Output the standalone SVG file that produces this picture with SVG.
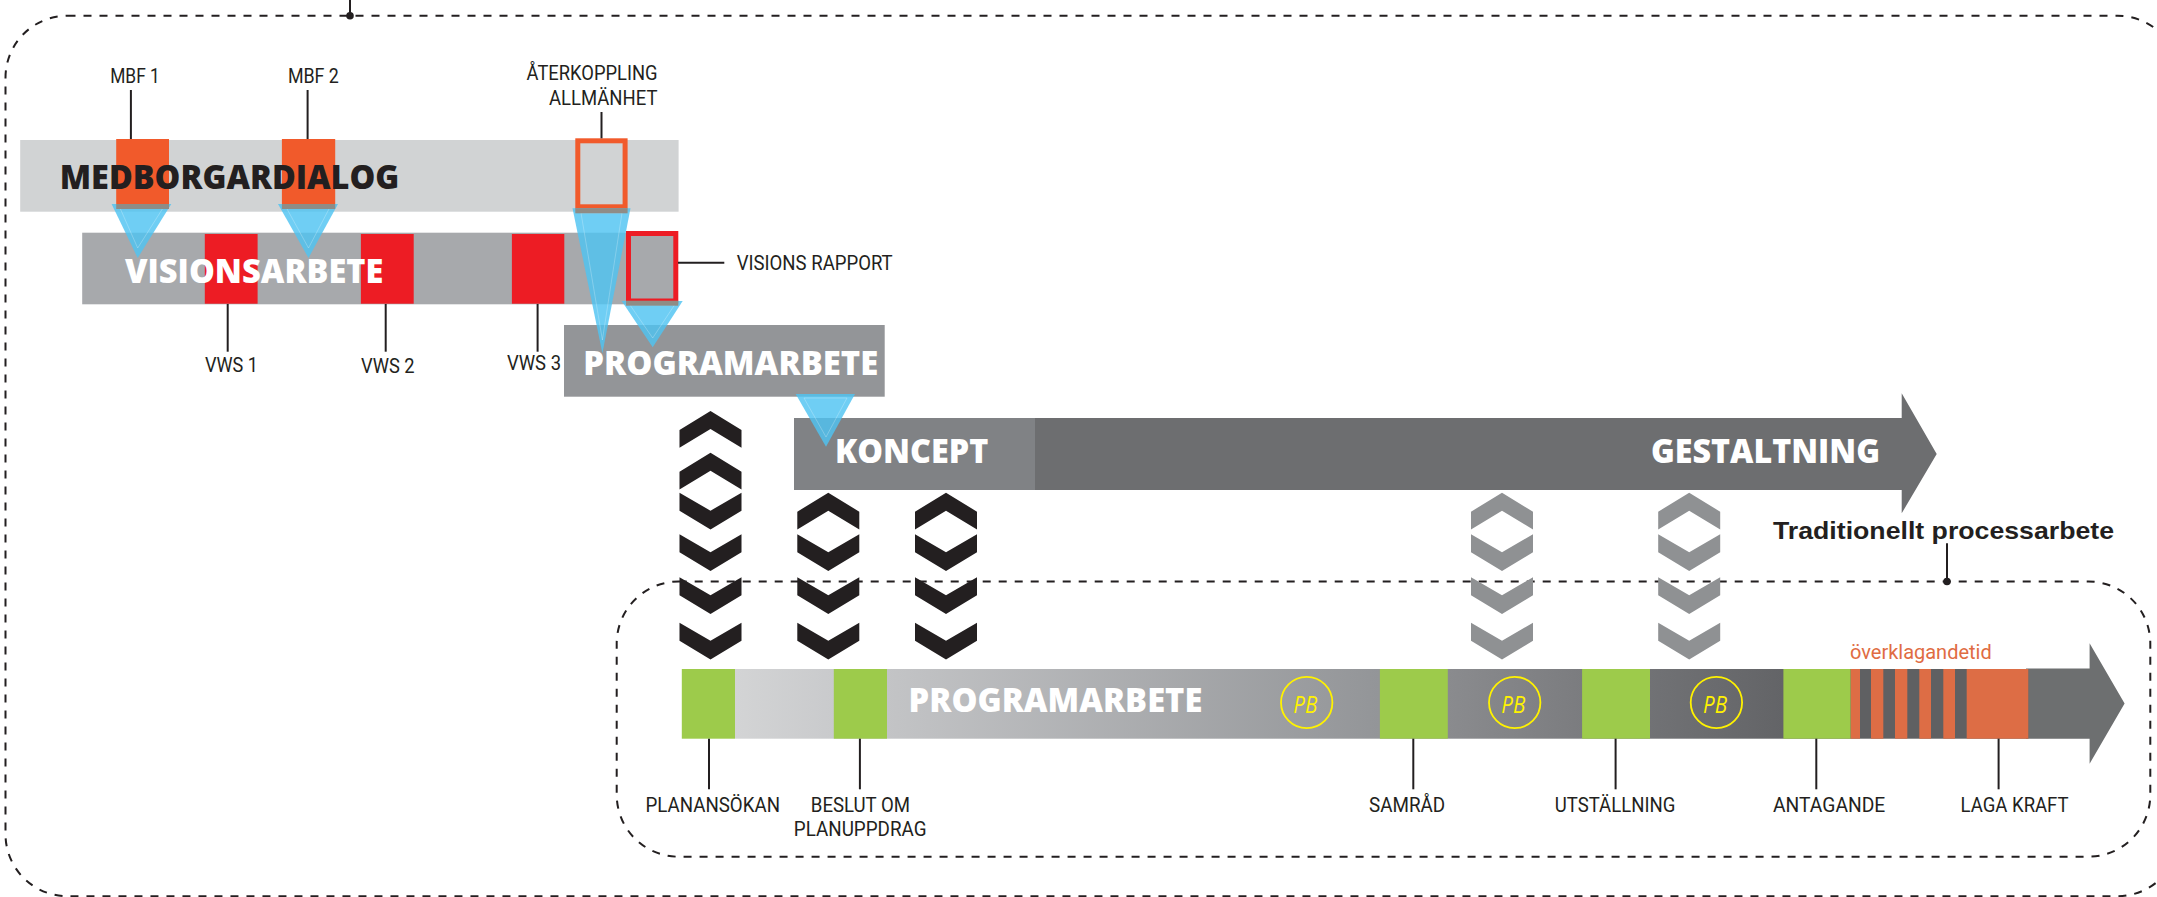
<svg xmlns="http://www.w3.org/2000/svg" width="2157" height="897" viewBox="0 0 2157 897">
<style>
.dash{fill:none;stroke:#231f20;stroke-width:2;stroke-dasharray:8 8}
.lead{stroke:#231f20;stroke-width:2;fill:none}
.lbl{font-family:Roboto,"Liberation Sans",sans-serif;font-size:19.5px;fill:#231f20}
.hd{font-family:"Open Sans","Liberation Sans",sans-serif;font-weight:800;font-size:34px}
.w{fill:#ffffff}
.blk{fill:#231f20}
.tri{fill:#4fc3f2;opacity:0.82}
.triin{fill:none;stroke:#ffffff;stroke-opacity:0.3;stroke-width:0.8}
.strip{fill:#8f8c86}
.green{fill:#9dcb4b}
.pbc{fill:none;stroke:#fff200;stroke-width:1.8}
.pbt{font-family:"Open Sans","Liberation Sans",sans-serif;font-style:italic;font-size:24px;fill:#fff200}
.chk{fill:#231f20}
.chg{fill:#8f9193}
</style>
<defs>
<path id="chevU" d="M0,0 L31,19 L31,36.7 L0,18 L-31,36.7 L-31,19 Z"/>
<path id="chevD" d="M-31,0 L0,18 L31,0 L31,18 L0,36.7 L-31,18 Z"/>
<linearGradient id="barg" gradientUnits="userSpaceOnUse" x1="735" y1="0" x2="1850" y2="0">
<stop offset="0" stop-color="#d3d4d5"/>
<stop offset="0.09" stop-color="#c9cacc"/>
<stop offset="0.136" stop-color="#c3c4c6"/>
<stop offset="0.578" stop-color="#939598"/>
<stop offset="0.64" stop-color="#8a8b8e"/>
<stop offset="0.76" stop-color="#7b7c7f"/>
<stop offset="0.82" stop-color="#717275"/>
<stop offset="0.94" stop-color="#636467"/>
<stop offset="1" stop-color="#5f6062"/>
</linearGradient>
</defs>

<g id="outer-frame">
<rect class="dash" x="5.5" y="15.7" width="2174" height="880.5" rx="62"/>
<line class="lead" x1="350" y1="0" x2="350" y2="15.7"/>
<circle cx="350" cy="15.7" r="3.8" class="blk"/>
</g>

<g id="medborgardialog">
<rect x="20.2" y="140" width="658.4" height="71.7" fill="#d1d3d4"/>
<rect x="116.2" y="139" width="52.8" height="65" fill="#f15a2b"/>
<rect x="281.9" y="139" width="53.3" height="65" fill="#f15a2b"/>
<rect x="577.8" y="140.8" width="47.3" height="66" fill="#d1d3d4" stroke="#f15a2b" stroke-width="5"/>
<text class="hd blk" x="59.7" y="189.3" textLength="339.7" lengthAdjust="spacingAndGlyphs">MEDBORGARDIALOG</text>
</g>

<g id="mbf1"><text class="lbl" x="110.2" y="83" textLength="49.6" lengthAdjust="spacingAndGlyphs">MBF 1</text></g>
<g id="mbf2"><text class="lbl" x="287.9" y="83" textLength="51" lengthAdjust="spacingAndGlyphs">MBF 2</text></g>
<g id="aterkoppling">
<text class="lbl" x="526.6" y="80" textLength="130.9" lengthAdjust="spacingAndGlyphs">ÅTERKOPPLING</text>
<text class="lbl" x="549" y="105" textLength="108.5" lengthAdjust="spacingAndGlyphs">ALLMÄNHET</text>
</g>

<g id="visionsarbete">
<rect x="82.2" y="232.7" width="594" height="71.6" fill="#a7a9ac"/>
<rect x="204.8" y="234" width="52.8" height="69.7" fill="#ed1c24"/>
<rect x="360.9" y="234" width="52.8" height="69.7" fill="#ed1c24"/>
<rect x="511.9" y="234" width="52.4" height="69.7" fill="#ed1c24"/>
<rect x="628.5" y="233.5" width="47.3" height="67.5" fill="#a7a9ac" stroke="#ed1c24" stroke-width="5"/>
<text class="hd w" x="124.9" y="282.7" font-size="35" textLength="258.5" lengthAdjust="spacingAndGlyphs">VISIONSARBETE</text>
</g>

<g id="vws1"><text class="lbl" x="205" y="371.7" textLength="53" lengthAdjust="spacingAndGlyphs">VWS 1</text></g>
<g id="vws2"><text class="lbl" x="361" y="372.7" textLength="53.6" lengthAdjust="spacingAndGlyphs">VWS 2</text></g>
<g id="vws3"><text class="lbl" x="507" y="370" textLength="54" lengthAdjust="spacingAndGlyphs">VWS 3</text></g>
<g id="visions-rapport"><text class="lbl" x="736.7" y="270" textLength="156" lengthAdjust="spacingAndGlyphs">VISIONS RAPPORT</text></g>

<g id="programarbete-upper">
<rect x="564" y="325" width="320.7" height="71.7" fill="#939598"/>
<text class="hd w" x="583.3" y="375" textLength="295" lengthAdjust="spacingAndGlyphs">PROGRAMARBETE</text>
</g>

<g id="koncept-gestaltning">
<path d="M1035,418 L1901.7,418 L1901.7,393.3 L1936.7,454 L1901.7,513.3 L1901.7,490 L1035,490 Z" fill="#6d6e70"/>
<rect x="794" y="418" width="241" height="72" fill="#808285"/>
<text class="hd w" x="835" y="463.3" textLength="153.3" lengthAdjust="spacingAndGlyphs">KONCEPT</text>
<text class="hd w" x="1651" y="462.7" textLength="229" lengthAdjust="spacingAndGlyphs">GESTALTNING</text>
</g>

<g id="traditionellt-frame">
<rect class="dash" x="616.7" y="581.5" width="1533.6" height="275.2" rx="62"/>
<line class="lead" x1="1947" y1="543.3" x2="1947" y2="581.5"/>
<circle cx="1947" cy="581.5" r="3.8" class="blk"/>
<text x="1773" y="539.3" font-family="'Liberation Sans',Arial,sans-serif" font-weight="700" font-size="24" fill="#231f20" textLength="341" lengthAdjust="spacingAndGlyphs">Traditionellt processarbete</text>
</g>

<g id="chevrons-1">
<use href="#chevU" x="710.5" y="411" class="chk"/>
<use href="#chevU" x="710.5" y="452.7" class="chk"/>
<use href="#chevD" x="710.5" y="492.7" class="chk"/>
<use href="#chevD" x="710.5" y="534.3" class="chk"/>
<use href="#chevD" x="710.5" y="577.3" class="chk"/>
<use href="#chevD" x="710.5" y="622.7" class="chk"/>
</g>
<g id="chevrons-2">
<use href="#chevU" x="828.3" y="492.7" class="chk"/>
<use href="#chevD" x="828.3" y="534.3" class="chk"/>
<use href="#chevD" x="828.3" y="577.3" class="chk"/>
<use href="#chevD" x="828.3" y="622.7" class="chk"/>
</g>
<g id="chevrons-3">
<use href="#chevU" x="946" y="492.7" class="chk"/>
<use href="#chevD" x="946" y="534.3" class="chk"/>
<use href="#chevD" x="946" y="577.3" class="chk"/>
<use href="#chevD" x="946" y="622.7" class="chk"/>
</g>
<g id="chevrons-4">
<use href="#chevU" x="1502" y="492.7" class="chg"/>
<use href="#chevD" x="1502" y="534.3" class="chg"/>
<use href="#chevD" x="1502" y="577.3" class="chg"/>
<use href="#chevD" x="1502" y="622.7" class="chg"/>
</g>
<g id="chevrons-5">
<use href="#chevU" x="1689.2" y="492.7" class="chg"/>
<use href="#chevD" x="1689.2" y="534.3" class="chg"/>
<use href="#chevD" x="1689.2" y="577.3" class="chg"/>
<use href="#chevD" x="1689.2" y="622.7" class="chg"/>
</g>

<g id="process-bar">
<path d="M2026,668.5 L2089.6,668.5 L2089.6,643.3 L2124.6,703.6 L2089.6,763.8 L2089.6,738.7 L2026,738.7 Z" fill="#6d6f70"/>
<rect x="735" y="669" width="1116" height="69.7" fill="url(#barg)"/>
<rect x="681.8" y="669" width="53.2" height="69.7" class="green"/>
<rect x="833.8" y="669" width="53.2" height="69.7" class="green"/>
<rect x="1379.9" y="669" width="67.9" height="69.7" class="green"/>
<rect x="1582.1" y="669" width="67.9" height="69.7" class="green"/>
<rect x="1783.4" y="669" width="67.4" height="69.7" class="green"/>
<rect x="1850.8" y="669" width="177.5" height="69.7" fill="#5f6062"/>
<rect x="1850.8" y="669" width="9.2" height="69.7" fill="#dd6d45"/>
<rect x="1871" y="669" width="12.3" height="69.7" fill="#dd6d45"/>
<rect x="1895" y="669" width="12.3" height="69.7" fill="#dd6d45"/>
<rect x="1919.3" y="669" width="11.7" height="69.7" fill="#dd6d45"/>
<rect x="1943.3" y="669" width="11.7" height="69.7" fill="#dd6d45"/>
<rect x="1966.7" y="669" width="61.6" height="69.7" fill="#dd6d45"/>
<text class="hd w" x="908.6" y="711.7" textLength="293.8" lengthAdjust="spacingAndGlyphs">PROGRAMARBETE</text>
<circle class="pbc" cx="1306.7" cy="702.5" r="25.7"/>
<text class="pbt" x="1293.3" y="712.7" textLength="24" lengthAdjust="spacingAndGlyphs">PB</text>
<circle class="pbc" cx="1514.7" cy="702.5" r="25.7"/>
<text class="pbt" x="1501.3" y="712.7" textLength="24" lengthAdjust="spacingAndGlyphs">PB</text>
<circle class="pbc" cx="1716.4" cy="702.5" r="25.7"/>
<text class="pbt" x="1703" y="712.7" textLength="24" lengthAdjust="spacingAndGlyphs">PB</text>
<text x="1850" y="659" font-family="Roboto,'Liberation Sans',sans-serif" font-size="20" fill="#e06c43" textLength="141.7" lengthAdjust="spacingAndGlyphs">överklagandetid</text>
</g>

<g id="planansokan"><text class="lbl" x="645.5" y="811.7" textLength="134.5" lengthAdjust="spacingAndGlyphs">PLANANSÖKAN</text></g>
<g id="beslut">
<text class="lbl" x="810.8" y="811.7" textLength="99.2" lengthAdjust="spacingAndGlyphs">BESLUT OM</text>
<text class="lbl" x="793.8" y="836" textLength="132.7" lengthAdjust="spacingAndGlyphs">PLANUPPDRAG</text>
</g>
<g id="samrad"><text class="lbl" x="1369" y="811.7" textLength="76.2" lengthAdjust="spacingAndGlyphs">SAMRÅD</text></g>
<g id="utstallning"><text class="lbl" x="1554.8" y="811.7" textLength="120.5" lengthAdjust="spacingAndGlyphs">UTSTÄLLNING</text></g>
<g id="antagande"><text class="lbl" x="1773" y="811.7" textLength="112.3" lengthAdjust="spacingAndGlyphs">ANTAGANDE</text></g>
<g id="laga-kraft"><text class="lbl" x="1960.6" y="811.7" textLength="108" lengthAdjust="spacingAndGlyphs">LAGA KRAFT</text></g>

<g id="connectors">
<line class="lead" x1="130.9" y1="90" x2="130.9" y2="139"/>
<line class="lead" x1="307.6" y1="90" x2="307.6" y2="139"/>
<line class="lead" x1="601.5" y1="112" x2="601.5" y2="138.3"/>
<line class="lead" x1="227.7" y1="304" x2="227.7" y2="351.7"/>
<line class="lead" x1="385.7" y1="304" x2="385.7" y2="351.7"/>
<line class="lead" x1="537.6" y1="304" x2="537.6" y2="351.7"/>
<line class="lead" x1="678" y1="262.7" x2="724.3" y2="262.7"/>
<line class="lead" x1="709" y1="738.7" x2="709" y2="789.3"/>
<line class="lead" x1="859.9" y1="738.7" x2="859.9" y2="789.3"/>
<line class="lead" x1="1413.3" y1="738.7" x2="1413.3" y2="789.3"/>
<line class="lead" x1="1615.6" y1="738.7" x2="1615.6" y2="789.3"/>
<line class="lead" x1="1816.3" y1="738.7" x2="1816.3" y2="789.3"/>
<line class="lead" x1="1998.6" y1="738.7" x2="1998.6" y2="789.3"/>

<polygon class="tri" points="111.6,204 171.3,204 137.7,258"/>
<polygon class="triin" points="120,208 163,208 137.7,248"/>
<rect class="strip" x="116.2" y="204" width="52.8" height="5"/>
<polygon class="tri" points="278,204 338,204 308.5,258"/>
<polygon class="triin" points="286.5,208 329.5,208 308.5,248"/>
<rect class="strip" x="281.9" y="204" width="53.3" height="5"/>
<polygon class="tri" points="572.5,208.3 630.5,208.3 602.4,353.3"/>
<polygon class="triin" points="581,213 622,213 602.4,340"/>
<rect class="strip" x="575.3" y="208.3" width="52.3" height="5"/>
<polygon class="tri" points="621.7,301 682.7,301 652.7,347.3"/>
<polygon class="triin" points="630,305 674.5,305 652.7,338"/>
<rect class="strip" x="626" y="300.7" width="52.3" height="5"/>
<polygon class="tri" points="795.7,394 855,394 826,446.7"/>
<polygon class="triin" points="804,398 847,398 826,437"/>
</g>
</svg>
